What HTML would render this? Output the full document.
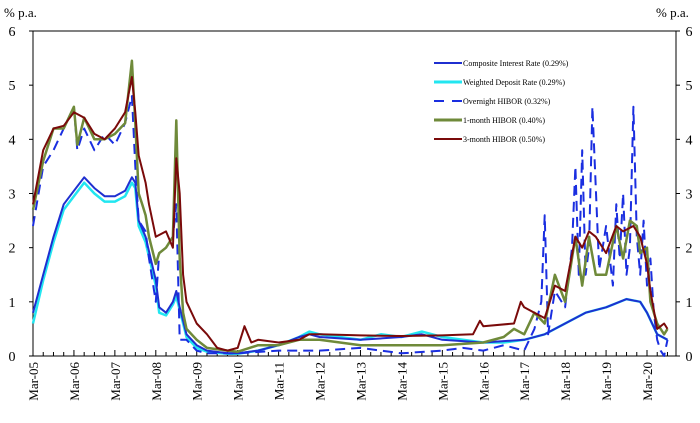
<!DOCTYPE html>
<html><head><meta charset="utf-8"><style>
body{margin:0;background:#fff;width:700px;height:418px;overflow:hidden}
svg text{font-family:"Liberation Serif",serif;fill:#000}
</style></head><body>
<svg width="700" height="418" xmlns="http://www.w3.org/2000/svg">
<g id="axes"></g>
<g id="series"></g>
<g id="legend"></g>
</svg>
<script>
// months since Mar-05
const yTicks=[0,1,2,3,4,5,6];
const xLabels=["Mar-05","Mar-06","Mar-07","Mar-08","Mar-09","Mar-10","Mar-11","Mar-12","Mar-13","Mar-14","Mar-15","Mar-16","Mar-17","Mar-18","Mar-19","Mar-20"];
const compM=[0,3,6,9,12,15,18,21,24,27,29,30,31,33,36,37,39,41,42,43,45,48,51,57,60,66,72,78,81,84,96,108,114,120,132,144,150,156,162,168,174,178,180,183,186];
const compV=[0.8,1.5,2.2,2.8,3.05,3.3,3.1,2.95,2.95,3.05,3.3,3.2,2.5,2.2,1.4,0.9,0.8,1.0,1.2,0.9,0.4,0.2,0.1,0.05,0.05,0.1,0.2,0.35,0.4,0.35,0.3,0.35,0.4,0.3,0.25,0.3,0.4,0.6,0.8,0.9,1.05,1.0,0.8,0.4,0.3];
const wdrM=[0,3,6,9,12,15,18,21,24,27,29,30,31,33,36,37,39,41,42,43,45,48,51,57,60,66,72,78,81,84,90,96,102,108,114,120,126,132,138,144,150,156,162,168,174,178,180,183,186];
const wdrV=[0.6,1.4,2.1,2.7,2.95,3.2,3.0,2.85,2.85,2.95,3.2,3.1,2.4,2.1,1.3,0.8,0.75,0.95,1.1,0.85,0.35,0.15,0.08,0.04,0.04,0.1,0.2,0.35,0.45,0.4,0.35,0.3,0.4,0.35,0.45,0.35,0.3,0.25,0.25,0.3,0.4,0.6,0.8,0.9,1.05,1.0,0.8,0.4,0.3];
const onM=[0,3,6,9,12,13,15,18,21,24,27,29,30,31,33,34,36,37,39,41,42,43,45,48,51,60,72,84,96,108,120,126,132,138,144,147,149,150,151,153,156,158,159,160,161,162,163,164,166,168,170,171,172,173,174,175,176,177,178,179,180,181,182,183,184,185,186];
const onV=[2.4,3.5,3.8,4.2,4.6,3.8,4.2,3.8,4.1,3.9,4.3,4.8,3.5,2.5,2.3,1.8,1.0,1.9,2.0,2.2,2.8,0.3,0.3,0.1,0.05,0.05,0.1,0.1,0.15,0.05,0.1,0.15,0.1,0.2,0.1,0.5,1.0,2.6,0.4,1.2,0.9,2.0,3.5,1.5,3.8,1.5,2.0,4.6,1.6,2.4,1.3,2.8,1.8,3.0,1.5,2.0,4.6,2.2,1.5,2.5,1.3,1.8,0.8,0.3,0.1,0.0,0.3];
const m1M=[0,3,6,9,12,13,15,18,21,24,27,29,30,31,32,33,34,36,37,39,41,42,43,44,45,48,51,57,60,66,72,78,81,84,90,96,108,120,132,138,141,144,147,150,153,156,159,161,163,165,168,171,173,175,177,178,180,181,183,185,186];
const m1V=[2.7,3.6,4.2,4.2,4.6,3.9,4.4,4.0,4.0,4.1,4.3,5.45,4.3,3.0,2.8,2.6,2.2,1.7,1.9,2.0,2.2,4.35,1.8,0.8,0.5,0.3,0.15,0.1,0.08,0.2,0.2,0.3,0.3,0.3,0.25,0.2,0.2,0.2,0.25,0.35,0.5,0.4,0.8,0.6,1.5,1.0,2.2,1.3,2.2,1.5,1.5,2.4,1.8,2.5,2.4,1.9,2.0,1.0,0.6,0.4,0.5];
const m3M=[0,3,6,9,12,15,18,21,24,27,29,30,31,33,34,36,39,41,42,43,44,45,48,51,54,57,60,62,64,66,72,78,81,84,96,108,120,129,131,132,141,143,144,147,150,153,156,159,161,163,165,168,171,173,176,178,180,181,183,185,186];
const m3V=[2.8,3.8,4.2,4.25,4.5,4.4,4.1,4.0,4.2,4.5,5.15,4.5,3.7,3.2,2.8,2.2,2.3,2.0,3.65,3.0,1.5,1.0,0.6,0.4,0.15,0.1,0.15,0.55,0.25,0.3,0.25,0.3,0.4,0.4,0.38,0.37,0.38,0.4,0.65,0.55,0.6,1.0,0.9,0.8,0.7,1.3,1.2,2.2,2.0,2.3,2.2,1.9,2.4,2.3,2.4,2.2,1.7,1.2,0.5,0.6,0.5];

const X0=33,X1=676,Y0=356,YT=31,maxM=188.5;
const x=m=>X0+m*(X1-X0)/maxM;
const y=v=>Y0-v*(Y0-YT)/6;
const NS="http://www.w3.org/2000/svg";
function mk(tag,attrs,parent,txt){const e=document.createElementNS(NS,tag);for(const k in attrs)e.setAttribute(k,attrs[k]);if(txt!==undefined)e.textContent=txt;parent.appendChild(e);return e;}
const axes=document.getElementById('axes');
let el=mk('rect',{x:X0,y:YT,width:X1-X0,height:Y0-YT,fill:'none',stroke:'#000','stroke-width':1},axes);


el=mk('text',{x:4,y:17,'font-size':13},axes,'% p.a.');


el=mk('text',{x:656,y:17,'font-size':13},axes,'% p.a.');


yTicks.forEach(t=>{
  mk('line',{x1:X0-4,x2:X0,y1:y(t),y2:y(t),stroke:'#000'},axes);
  mk('line',{x1:X1,x2:X1+4,y1:y(t),y2:y(t),stroke:'#000'},axes);
  el=mk('text',{x:12,y:y(t)+5,'font-size':14,'text-anchor':'middle'},axes,String(t));
  
  
  el=mk('text',{x:689,y:y(t)+5,'font-size':14,'text-anchor':'middle'},axes,String(t));
  
  
});
for(let m=0;m<=186;m+=3){const big=m%12===0;mk('line',{x1:x(m),x2:x(m),y1:Y0-(big?6:4),y2:Y0,stroke:'#000'},axes);}
xLabels.forEach((l,i)=>{
  const px=x(i*12);
  el=mk('text',{x:0,y:0,'font-size':13,'text-anchor':'end',transform:`translate(${px+5},${Y0+6}) rotate(-90)`},axes,l);
  
  
});
const series=document.getElementById('series');
function line(ms,vs,color,w,dash,name){
  const d=ms.map((m,i)=>(i?'L':'M')+x(m).toFixed(1)+','+y(vs[i]).toFixed(1)).join('');
  const p=mk('path',{d:d,fill:'none',stroke:color,'stroke-width':w,'stroke-linejoin':'round'},series);
  if(dash)p.setAttribute('stroke-dasharray',dash);
  
  
}
line(wdrM,wdrV,'#22e6f0',2.5,null,'weighted-deposit-rate-line');
line(compM,compV,'#1f2fd0',2,null,'composite-interest-rate-line');
line(onM,onV,'#1a2ee0',2,'10,6','overnight-hibor-line');
line(m1M,m1V,'#6f8a3a',2.5,null,'one-month-hibor-line');
line(m3M,m3V,'#7a0a0a',2,null,'three-month-hibor-line');
const legend=document.getElementById('legend');
const leg=[['Composite Interest Rate (0.29%)','#1f2fd0',null,2],['Weighted Deposit Rate (0.29%)','#22e6f0',null,3],['Overnight HIBOR (0.32%)','#1a2ee0','10,8',2],['1-month HIBOR (0.40%)','#6f8a3a',null,3],['3-month HIBOR (0.50%)','#7a0a0a',null,2]];
leg.forEach((e,i)=>{
  const yy=63+i*19;
  const l=mk('line',{x1:434,x2:462,y1:yy,y2:yy,stroke:e[1],'stroke-width':e[3]},legend);
  if(e[2])l.setAttribute('stroke-dasharray',e[2]);
  
  
  el=mk('text',{x:463,y:yy+3,'font-size':8},legend,e[0]);
  
  
});
</script>
</body></html>
